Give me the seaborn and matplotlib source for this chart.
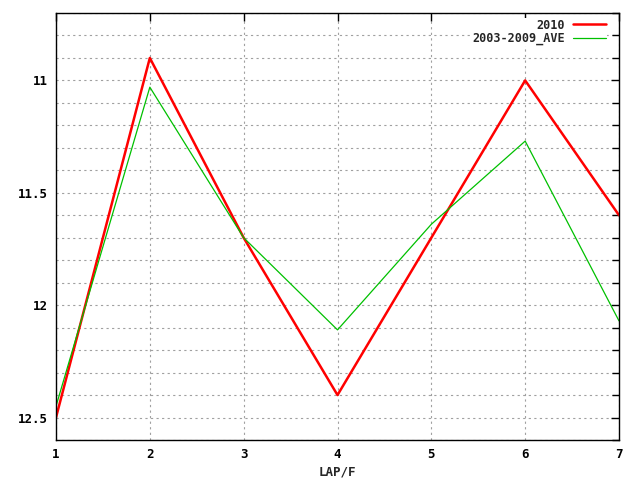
import matplotlib
matplotlib.use("Agg")
import matplotlib.pyplot as plt
from matplotlib.ticker import MultipleLocator
import seaborn as sns
import pandas as pd

laps = [1, 2, 3, 4, 5, 6, 7]
time_2010 = [12.50, 10.90, 11.70, 12.40, 11.70, 11.00, 11.60]
time_ave = [12.45, 11.03, 11.70, 12.11, 11.64, 11.27, 12.07]
series_names = ["2010", "2003-2009_AVE"]
colors = {"2010": "#ff0000", "2003-2009_AVE": "#00c000"}
widths = {"2010": 1.8, "2003-2009_AVE": 0.9}

df = pd.DataFrame({
    "lap": laps * 2,
    "time": time_2010 + time_ave,
    "series": [series_names[0]] * len(laps) + [series_names[1]] * len(laps),
})

sns.set_style("white")
plt.rcParams["font.family"] = ["DejaVu Sans Mono"]
plt.rcParams["font.weight"] = "bold"

fig = plt.figure(figsize=(6.4, 4.8), dpi=100)
ax = fig.add_axes([56 / 640, 1 - 440 / 480, 563 / 640, 427 / 480])

sns.lineplot(data=df, x="lap", y="time", hue="series", size="series",
             sizes=widths, palette=colors, ax=ax)

ax.set_xlim(1, 7)
ax.set_ylim(12.6, 10.7)
ax.set_xticks(laps)
ax.yaxis.set_minor_locator(MultipleLocator(0.1))
ax.set_yticks([11, 11.5, 12, 12.5])
ax.set_yticklabels(["11", "11.5", "12", "12.5"])

# gnuplot-ish dotted grid
ax.grid(True, which="both", axis="y", color="#a0a0a0", linestyle=(0, (2, 3)), linewidth=0.8)
ax.grid(True, which="major", axis="x", color="#a0a0a0", linestyle=(0, (2, 3)), linewidth=0.8)
ax.tick_params(which="both", direction="in", top=True, right=True, length=6,
               labelsize=9, width=1, colors="black")
ax.tick_params(axis="y", pad=6)
ax.tick_params(axis="x", pad=6)
ax.tick_params(which="minor", length=5)
for s in ax.spines.values():
    s.set_color("black")
    s.set_linewidth(1)

ax.set_xlabel("LAP/F", fontsize=9, fontweight="bold", labelpad=3)
ax.set_ylabel("")

# legend box blanks the grid behind it, like gnuplot
handles = [plt.Line2D([], [], color=colors[n], linewidth=widths[n], linestyle="-")
           for n in series_names]
leg = ax.legend(handles, series_names, loc="upper right", frameon=True,
                facecolor="white", edgecolor="white", framealpha=1, fancybox=False,
                markerfirst=False, fontsize=8.5, handlelength=2.8,
                bbox_to_anchor=(1 - 12 / 563, 1 - 5 / 427), borderaxespad=0,
                borderpad=0.05, labelspacing=0.05, handletextpad=0.7)
leg.get_frame().set_linewidth(0)
for t in leg.get_texts():
    t.set_ha("right")

fig.savefig("out.png", dpi=100)
